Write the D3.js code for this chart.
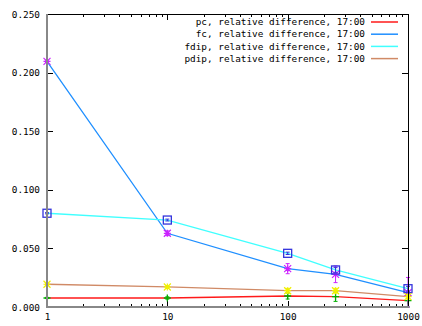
<!DOCTYPE html>
<html><head><meta charset="utf-8">
<script src="https://cdn.jsdelivr.net/npm/d3@7/dist/d3.min.js"></script>
<style>html,body{margin:0;padding:0;background:#fff}svg{display:block}</style>
</head><body>
<svg id="c" width="422" height="326"></svg>
<script>
const xValues = [1, 10, 100, 250, 1000];
const pcValues = [0.0077, 0.0077, 0.0094, 0.0088, 0.0054];
const pcErrors = [0.0005, 0.0010, 0.0026, 0.0040, 0.0060];
const fcValues = [0.2096, 0.0629, 0.0327, 0.0279, 0.0122];
const fcErrors = [0.0010, 0.0020, 0.0043, 0.0071, 0.0130];
const fdipValues = [0.0800, 0.0742, 0.0458, 0.0316, 0.0156];
const fdipErrors = [0.0005, 0.0008, 0.0010, 0.0020, 0.0020];
const pdipValues = [0.0194, 0.0171, 0.0139, 0.0139, 0.0088];
const pdipErrors = [0.0005, 0.0008, 0.0020, 0.0020, 0.0020];
const seriesNames = ["pc, relative difference, 17:00", "fc, relative difference, 17:00",
  "fdip, relative difference, 17:00", "pdip, relative difference, 17:00"];
const yTicks = [0, 0.05, 0.1, 0.15, 0.2, 0.25];
const xTicks = [1, 10, 100, 1000];

const lineColors = ["#ff1a1a", "#1f8fff", "#40ffff", "#d08a66"];
const pointColors = ["#00b000", "#cc22ff", "#3333dd", "#f0f000"];
const pointShapes = ["plus", "star", "square", "star"];

const svg = d3.select("#c");
svg.append("rect").attr("width", 422).attr("height", 326).attr("fill", "#fff");
const L = 47, R = 408, T = 14, B = 307;
const x = d3.scaleLog().domain([1, 1000]).range([L, R]);
const y = d3.scaleLinear().domain([0, 0.25]).range([B, T]);
const font = "'DejaVu Sans Mono', monospace";

// minor/major ticks
const minor = [];
for (let d = 1; d < 1000; d *= 10) for (let k = 2; k <= 9; k++) minor.push(d * k);
const g = svg.append("g").attr("stroke", "#000").attr("stroke-width", 1).attr("shape-rendering", "crispEdges");
minor.forEach(v => {
  const px = Math.round(x(v)) + 0.5;
  g.append("line").attr("x1", px).attr("x2", px).attr("y1", B).attr("y2", B - 3);
  g.append("line").attr("x1", px).attr("x2", px).attr("y1", T).attr("y2", T + 3);
});
xTicks.forEach(v => {
  const px = Math.round(x(v)) + 0.5;
  g.append("line").attr("x1", px).attr("x2", px).attr("y1", B).attr("y2", B - 6);
  g.append("line").attr("x1", px).attr("x2", px).attr("y1", T).attr("y2", T + 6);
});
yTicks.forEach(v => {
  const py = Math.round(y(v)) + 0.5;
  g.append("line").attr("x1", L).attr("x2", L + 6).attr("y1", py).attr("y2", py);
  g.append("line").attr("x1", R).attr("x2", R - 6).attr("y1", py).attr("y2", py);
});

// tick labels
const yAxis = d3.axisLeft(y).tickValues(yTicks).tickFormat(d3.format(".3f")).tickSize(0).tickPadding(7);
const ya = svg.append("g").attr("transform", `translate(${L},0)`).call(yAxis);
ya.select(".domain").remove();
ya.selectAll("text").attr("font-family", font).attr("font-size", 9.4).attr("fill", "#000");
const xAxis = d3.axisBottom(x).tickValues(xTicks).tickFormat(d3.format("d")).tickSize(0).tickPadding(6);
const xa = svg.append("g").attr("transform", `translate(0,${B})`).call(xAxis);
xa.select(".domain").remove();
xa.selectAll("text").attr("font-family", font).attr("font-size", 9.4).attr("fill", "#000");

// lines
const allValues = [pcValues, fcValues, fdipValues, pdipValues];
const allErrors = [pcErrors, fcErrors, fdipErrors, pdipErrors];
const line = d3.line().x(d => x(d[0])).y(d => y(d[1]));
const clip = svg.append("clipPath").attr("id", "clip").append("rect")
  .attr("x", L).attr("y", T).attr("width", R - L + 1).attr("height", B - T);
const plot = svg.append("g").attr("clip-path", "url(#clip)");
allValues.forEach((vals, i) => {
  plot.append("path").datum(xValues.map((xv, j) => [xv, vals[j]]))
    .attr("d", line).attr("fill", "none").attr("stroke", lineColors[i]).attr("stroke-width", 1.3);
});

// points + error bars
function marker(gp, shape, cx, cy, col) {
  const s = 3.5;
  if (shape === "plus") {
    gp.append("path").attr("d", `M${cx - s},${cy}H${cx + s}M${cx},${cy - s}V${cy + s}`)
      .attr("stroke", col).attr("stroke-width", 1.3).attr("fill", "none");
  } else if (shape === "star") {
    gp.append("path").attr("d", `M${cx - s},${cy}H${cx + s}M${cx},${cy - s}V${cy + s}M${cx - s},${cy - s}L${cx + s},${cy + s}M${cx - s},${cy + s}L${cx + s},${cy - s}`)
      .attr("stroke", col).attr("stroke-width", 1.2).attr("fill", "none");
  } else {
    gp.append("rect").attr("x", cx - 4).attr("y", cy - 4).attr("width", 8).attr("height", 8)
      .attr("stroke", col).attr("stroke-width", 1.3).attr("fill", "none");
  }
}
const pg = svg.append("g");
allValues.forEach((vals, i) => {
  vals.forEach((v, j) => {
    const cx = x(xValues[j]), e = allErrors[i][j];
    const y1 = Math.min(y(v - e), B), y2 = y(v + e);
    pg.append("path").attr("d", `M${cx},${y1}V${y2}M${cx - 2},${y1}H${cx + 2}M${cx - 2},${y2}H${cx + 2}`)
      .attr("stroke", pointColors[i]).attr("stroke-width", 1).attr("fill", "none");
    marker(pg, pointShapes[i], cx, y(v), pointColors[i]);
  });
});

// border
const bd = svg.append("g").attr("shape-rendering", "crispEdges");
bd.append("line").attr("x1", L).attr("x2", R).attr("y1", T + 0.5).attr("y2", T + 0.5).attr("stroke", "#000");
bd.append("line").attr("x1", R + 0.5).attr("x2", R + 0.5).attr("y1", T).attr("y2", B).attr("stroke", "#000");
bd.append("line").attr("x1", L).attr("x2", L).attr("y1", T).attr("y2", B + 1).attr("stroke", "#888").attr("stroke-width", 2);
bd.append("line").attr("x1", L - 1).attr("x2", R + 1).attr("y1", B).attr("y2", B).attr("stroke", "#888").attr("stroke-width", 2);

// legend
const leg = svg.append("g");
seriesNames.forEach((name, i) => {
  const ly = 22 + i * 12.2;
  leg.append("text").attr("x", 365).attr("y", ly).attr("dy", "0.35em").attr("text-anchor", "end")
    .attr("font-family", font).attr("font-size", 9.4).attr("fill", "#000").text(name);
  leg.append("line").attr("x1", 371).attr("x2", 398).attr("y1", ly).attr("y2", ly)
    .attr("stroke", lineColors[i]).attr("stroke-width", 1.5);
});
</script>
</body></html>
